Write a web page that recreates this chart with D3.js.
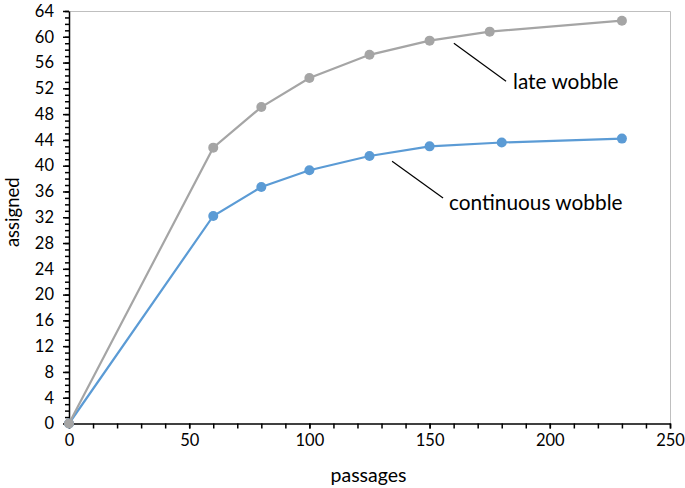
<!DOCTYPE html>
<html>
<head>
<meta charset="utf-8">
<script src="https://cdn.jsdelivr.net/npm/d3@7"></script>
<style>
  body { margin: 0; background: #fff; }
  text { font-family: Lato, "Open Sans", sans-serif; fill: #000; }
</style>
</head>
<body>
<div id="chart"></div>
<script>
// data
var lateX = [0, 60, 80, 100, 125, 150, 175, 230];
var lateY = [0, 42.8, 49.1, 53.6, 57.2, 59.4, 60.8, 62.5];
var contX = [0, 60, 80, 100, 125, 150, 180, 230];
var contY = [0, 32.2, 36.7, 39.3, 41.5, 43.0, 43.6, 44.2];
var xTicks = [0, 50, 100, 150, 200, 250];
var yTicks = d3.range(0, 65, 4);
var xMinor = d3.range(0, 251, 10);
var yMinor = d3.range(0, 65, 1);

var svgWidth = 685;
var svgHeight = 488;
var margin = { top: 11, right: 15, bottom: 64.5, left: 69 };
var width = svgWidth - margin.left - margin.right;
var height = svgHeight - margin.top - margin.bottom;

var svg = d3.select("#chart")
  .append("svg")
  .attr("width", svgWidth)
  .attr("height", svgHeight);
var chartGroup = svg.append("g")
  .attr("transform", `translate(${margin.left}, ${margin.top})`);

var x = d3.scaleLinear().domain([0, 250]).range([0, width]);
var y = d3.scaleLinear().domain([0, 64]).range([height, 0]);

// plot area border (top / right)
chartGroup.append("path")
  .attr("d", `M0,0.5H${width + 0.5}V${height}`)
  .attr("fill", "none")
  .attr("stroke", "#bfbfbf")
  .attr("stroke-width", 1);

// minor ticks
chartGroup.append("g")
  .attr("transform", `translate(0, ${height})`)
  .call(d3.axisBottom(x).tickValues(xMinor).tickSize(5).tickFormat(""))
  .call(g => g.select(".domain").remove())
  .selectAll("line").attr("stroke-width", 1.5);
chartGroup.append("g")
  .call(d3.axisLeft(y).tickValues(yMinor).tickSize(4).tickFormat(""))
  .call(g => g.select(".domain").remove())
  .selectAll("line").attr("stroke-width", 1.5);

// major axes
var xAxis = chartGroup.append("g")
  .attr("transform", `translate(0, ${height})`)
  .call(d3.axisBottom(x).tickValues(xTicks).tickSize(5).tickPadding(6).tickSizeOuter(0));
var yAxis = chartGroup.append("g")
  .call(d3.axisLeft(y).tickValues(yTicks).tickSize(6).tickPadding(9).tickSizeOuter(0));
[xAxis, yAxis].forEach(function(a) {
  a.select(".domain").attr("stroke-width", 1.5);
  a.selectAll("line").attr("stroke-width", 1.5);
  a.selectAll("text").attr("font-size", "16.5px").attr("font-family", "Lato, sans-serif");
});

// series
var lineGen = d3.line().x(d => x(d[0])).y(d => y(d[1]));
var series = [
  { xs: contX, ys: contY, color: "#5b9bd5" },
  { xs: lateX, ys: lateY, color: "#a5a5a5" }
];
series.forEach(function(s) {
  var pts = s.xs.map((v, i) => [v, s.ys[i]]);
  chartGroup.append("path")
    .datum(pts)
    .attr("d", lineGen)
    .attr("fill", "none")
    .attr("stroke", s.color)
    .attr("stroke-width", 2.2);
  chartGroup.selectAll(null)
    .data(pts)
    .enter()
    .append("circle")
    .attr("cx", d => x(d[0]))
    .attr("cy", d => y(d[1]))
    .attr("r", 5)
    .attr("fill", s.color);
});

// annotations
var notes = [
  { text: "late wobble", from: [160.1, 59.0], to: [181.8, 53.1], tx: 184.7, ty: 53.1 },
  { text: "continuous wobble", from: [134.4, 40.7], to: [155.6, 35.0], tx: 158.1, ty: 34.2 }
];
notes.forEach(function(n) {
  chartGroup.append("line")
    .attr("x1", x(n.from[0])).attr("y1", y(n.from[1]))
    .attr("x2", x(n.to[0])).attr("y2", y(n.to[1]))
    .attr("stroke", "#000")
    .attr("stroke-width", 1.2);
  chartGroup.append("text")
    .attr("x", x(n.tx))
    .attr("y", y(n.ty))
    .attr("dy", "0.35em")
    .attr("font-size", "20.8px")
    .text(n.text);
});

// axis titles
chartGroup.append("text")
  .attr("x", width / 2 - 1)
  .attr("y", height + 58)
  .attr("text-anchor", "middle")
  .attr("font-size", "19.5px")
  .text("passages");
chartGroup.append("text")
  .attr("transform", `translate(${-50}, ${height / 2 - 5}) rotate(-90)`)
  .attr("text-anchor", "middle")
  .attr("font-size", "18.5px")
  .text("assigned");
</script>
</body>
</html>
